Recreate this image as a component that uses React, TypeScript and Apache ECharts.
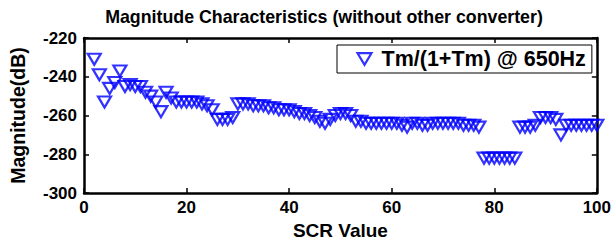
import React, { useEffect, useRef } from "react";
import * as echarts from "echarts";

const chartTitle = "Magnitude Characteristics (without other converter)";
const xAxisTitle = "SCR Value";
const yAxisTitle = "Magnitude(dB)";
const seriesName = "Tm/(1+Tm) @ 650Hz";

const scrValues = [
  2, 3, 4, 5, 6, 7, 8, 9, 10, 11, 12, 13, 14, 15, 16, 17, 18, 19, 20, 21,
  22, 23, 24, 25, 26, 27, 28, 29, 30, 31, 32, 33, 34, 35, 36, 37, 38, 39, 40, 41,
  42, 43, 44, 45, 46, 47, 48, 49, 50, 51, 52, 53, 54, 55, 56, 57, 58, 59, 60, 61,
  62, 63, 64, 65, 66, 67, 68, 69, 70, 71, 72, 73, 74, 75, 76, 77, 78, 79, 80, 81,
  82, 83, 84, 85, 86, 87, 88, 89, 90, 91, 92, 93, 94, 95, 96, 97, 98, 99, 100,
];

const magnitudeDb = [
  -231, -239, -253, -246, -243, -237, -245, -244, -245, -245, -248, -250, -253, -258, -248, -251, -253, -253, -253, -253,
  -253, -254, -255, -257, -262, -262, -262, -261, -254, -254, -254, -255, -255, -255, -256, -256, -257, -257, -257, -258,
  -259, -259, -260, -261, -263, -264, -262, -260, -259, -259, -260, -263, -263, -264, -264, -264, -264, -264, -264, -264,
  -265, -266, -264, -264, -265, -265, -264, -264, -264, -264, -264, -264, -265, -265, -265, -266, -282, -282, -282, -282,
  -282, -282, -282, -266, -266, -266, -265, -261, -261, -261, -262, -270, -265, -265, -265, -265, -265, -265, -265,
];

const xTicks = { min: 0, max: 100, interval: 20 };
const yTicks = { min: -300, max: -220, interval: 20 };

const FONT = "'Liberation Sans', Arial, sans-serif";
const MARKER_BLUE = "#0000ff";

export default function App() {
  const ref = useRef<HTMLDivElement>(null);
  useEffect(() => {
    if (!ref.current) return;
    const chart = echarts.init(ref.current, undefined, { renderer: "svg" });
    const axisLine = { show: true, onZero: false, lineStyle: { color: "#000", width: 2.5 } };
    const tick = { show: true, inside: true, length: 5, lineStyle: { color: "#000", width: 1.5 } };
    const label = { color: "#000", fontWeight: "bold" as const, fontSize: 17, fontFamily: FONT };
    const data = scrValues.map((x, i) => [x, magnitudeDb[i]]);
    chart.setOption({
      animation: false,
      backgroundColor: "#fff",
      title: {
        text: chartTitle,
        left: 319,
        top: 3,
        textAlign: "center",
        textStyle: { color: "#000", fontWeight: "bold", fontSize: 17.8, fontFamily: FONT },
      },
      grid: { left: 78, right: 14, top: 38, bottom: 53, containLabel: false },
      legend: {
        left: 337,
        top: 45,
        data: [{ name: seriesName, icon: "path://M0,0 L12,0 L6,10 Z" }],
        itemWidth: 14,
        itemHeight: 12,
        itemGap: 10,
        itemStyle: { color: "none", borderColor: MARKER_BLUE, borderWidth: 2.2 },
        padding: [3, 6, 3, 18],
        borderColor: "#000",
        borderWidth: 1,
        backgroundColor: "#fff",
        textStyle: { color: "#000", fontWeight: "bold", fontSize: 21.5, fontFamily: FONT, padding: [0, 0, 0, 5] },
      },
      xAxis: [
        {
          type: "value",
          ...xTicks,
          position: "bottom",
          axisLine,
          axisTick: tick,
          splitLine: { show: false },
          axisLabel: { ...label, margin: 6 },
          name: xAxisTitle,
          nameLocation: "middle",
          nameGap: 27,
          nameTextStyle: { color: "#000", fontWeight: "bold", fontSize: 19, fontFamily: FONT },
        },
        {
          type: "value",
          ...xTicks,
          position: "top",
          axisLine,
          axisTick: tick,
          splitLine: { show: false },
          axisLabel: { show: false },
        },
      ],
      yAxis: [
        {
          type: "value",
          ...yTicks,
          position: "left",
          axisLine,
          axisTick: tick,
          splitLine: { show: false },
          axisLabel: { ...label, margin: 7 },
          name: yAxisTitle,
          nameLocation: "middle",
          nameGap: 56,
          nameTextStyle: { color: "#000", fontWeight: "bold", fontSize: 19.5, fontFamily: FONT },
        },
        {
          type: "value",
          ...yTicks,
          position: "right",
          axisLine,
          axisTick: tick,
          splitLine: { show: false },
          axisLabel: { show: false },
        },
      ],
      series: [
        {
          name: seriesName,
          type: "scatter",
          xAxisIndex: 0,
          yAxisIndex: 0,
          data,
          symbol: "triangle",
          symbolRotate: 180,
          symbolSize: [13, 11],
          itemStyle: { color: "none", borderColor: MARKER_BLUE, borderWidth: 2.2 },
          emphasis: { disabled: true },
        },
      ],
    });
    return () => chart.dispose();
  }, []);
  return (
    <div
      ref={ref}
      style={{ position: "fixed", left: 0, top: 0, width: 614, height: 246, background: "#fff" }}
    />
  );
}
